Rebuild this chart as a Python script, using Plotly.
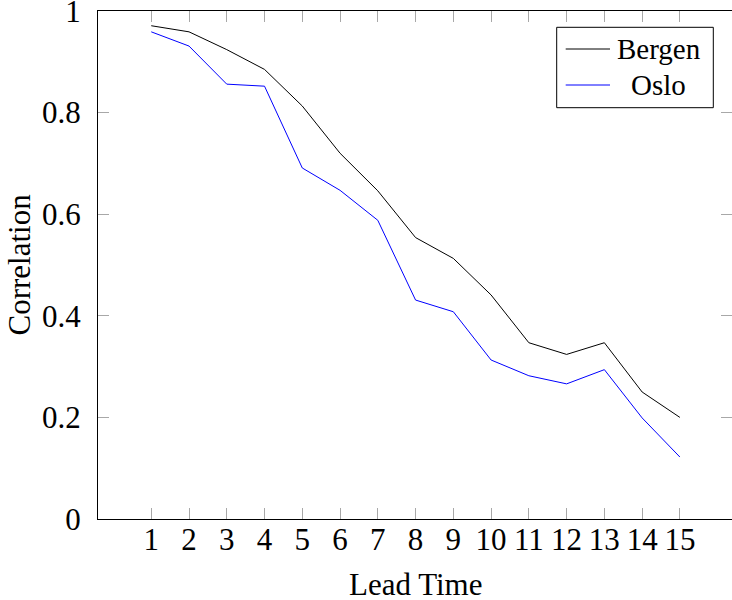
import plotly.graph_objects as go

lead_time = list(range(1, 16))
bergen = [0.971, 0.959, 0.924, 0.885, 0.813, 0.720, 0.646, 0.554, 0.513, 0.441,
          0.347, 0.324, 0.347, 0.250, 0.200]
oslo = [0.959, 0.931, 0.856, 0.852, 0.691, 0.647, 0.588, 0.431, 0.408, 0.313,
        0.282, 0.266, 0.294, 0.199, 0.122]
series_names = ["Bergen", "Oslo"]
series_colors = ["#000000", "#0000ff"]
y_ticks = [0, 0.2, 0.4, 0.6, 0.8, 1]
y_tick_text = ["0", "0.2", "0.4", "0.6", "0.8", "1"]
x_title = "Lead Time"
y_title = "Correlation"

W, H = 732, 600
ML, MR, MT, MB = 98, 0, 11, 81
PW, PH = W - ML - MR, H - MT - MB
FONT = "Liberation Serif"


def px_x(p):
    return (p - ML) / PW


def px_y(p):
    return (H - MB - p) / PH


fig = go.Figure()
for name, vals, col in zip(series_names, [bergen, oslo], series_colors):
    fig.add_trace(go.Scatter(x=lead_time, y=vals, mode="lines", name=name,
                             line=dict(color=col, width=1), showlegend=False))

axis_common = dict(showline=True, linecolor="black", linewidth=1, mirror="ticks",
                   ticks="inside", ticklen=11, tickwidth=1, tickcolor="#a8a8a8",
                   showgrid=False, zeroline=False, ticklabeloverflow="allow",
                   automargin=False,
                   tickfont=dict(family=FONT, size=31, color="black"))

fig.update_xaxes(range=[-0.41, 16.38], tickvals=lead_time,
                 ticklabelstandoff=-7, **axis_common)
fig.update_yaxes(range=[0, 1], tickvals=y_ticks, ticktext=y_tick_text,
                 ticklabelstandoff=10, **axis_common)

annotations = [
    dict(xref="paper", yref="paper", x=0.5, y=px_y(584), text=x_title,
         showarrow=False, xanchor="center", yanchor="middle",
         font=dict(family=FONT, size=31, color="black")),
    dict(xref="paper", yref="paper", x=px_x(18.5), y=0.5, text=y_title,
         textangle=-90, showarrow=False, xanchor="center", yanchor="middle",
         font=dict(family=FONT, size=31, color="black")),
]

# legend box drawn by hand so the entries can be centred
shapes = [dict(type="rect", xref="paper", yref="paper",
               x0=px_x(556.7), x1=px_x(713.3), y0=px_y(107.7), y1=px_y(27.3),
               line=dict(color="black", width=1), fillcolor="white")]
rows = [49.0, 85.0]
for name, col, ry in zip(series_names, series_colors, rows):
    shapes.append(dict(type="line", xref="paper", yref="paper",
                       x0=px_x(565.7), x1=px_x(610), y0=px_y(ry), y1=px_y(ry),
                       line=dict(color=col, width=1)))
    annotations.append(dict(xref="paper", yref="paper", x=px_x(658.5), y=px_y(ry),
                            text=name, showarrow=False, xanchor="center", yanchor="middle",
                            font=dict(family=FONT, size=29, color="black")))

fig.update_layout(width=W, height=H, margin=dict(l=ML, r=MR, t=MT, b=MB),
                  plot_bgcolor="white", paper_bgcolor="white",
                  font=dict(family=FONT, color="black"),
                  shapes=shapes, annotations=annotations, showlegend=False)

fig.write_html("out.html")
